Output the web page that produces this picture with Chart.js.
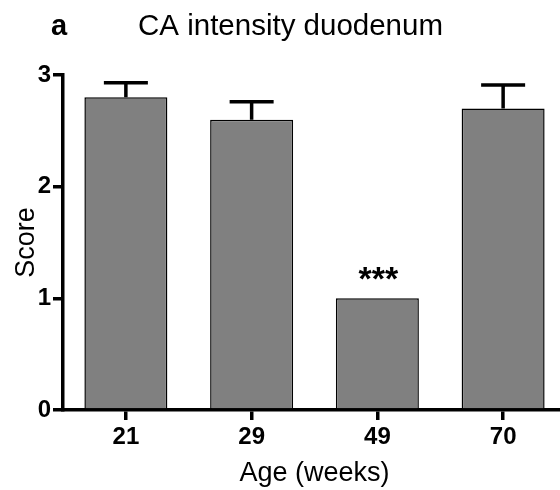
<!DOCTYPE html>
<html>
<head>
<meta charset="utf-8">
<script src="https://cdn.jsdelivr.net/npm/chart.js@4/dist/chart.umd.min.js"></script>
<style>
  html, body { margin: 0; padding: 0; background: #fff; overflow: hidden; }
  #wrap { width: 570px; height: 490px; }
</style>
</head>
<body>
<div id="wrap"><canvas id="caChart"></canvas></div>
<script>
const ages = ['21', '29', '49', '70'];
const scores = [2.8, 2.6, 1.0, 2.7];
const sem = [0.13, 0.16, 0, 0.21];
const marks = ['', '', '***', ''];
const yTicks = [0, 1, 2, 3];

const fontFam = 'Arial, "Liberation Sans", Helvetica, sans-serif';

const errorBars = {
    id: 'errorBars',
    afterDatasetsDraw(chart) {
        const c = chart.ctx;
        const y = chart.scales.y;
        const bars = chart.getDatasetMeta(0).data;
        c.save();
        c.strokeStyle = '#000';
        c.lineWidth = 3.5;
        bars.forEach(function (bar, i) {
            const top = y.getPixelForValue(scores[i] + sem[i]);
            if (sem[i] > 0) {
                c.beginPath();
                c.moveTo(bar.x, bar.y);
                c.lineTo(bar.x, top);
                c.moveTo(bar.x - 22, top);
                c.lineTo(bar.x + 22, top);
                c.stroke();
            }
            if (marks[i]) {
                c.fillStyle = '#000';
                c.font = 'bold 34px ' + fontFam;
                c.textAlign = 'center';
                c.textBaseline = 'alphabetic';
                c.fillText(marks[i], bar.x + 1, top - 8);
            }
        });
        c.restore();
    },
    afterDraw(chart) {
        const c = chart.ctx;
        c.save();
        c.fillStyle = '#000';
        c.textBaseline = 'alphabetic';
        c.textAlign = 'left';
        c.font = 'bold 29px ' + fontFam;
        c.fillText('a', 51, 35);
        c.font = '29.5px ' + fontFam;
        c.fillText('CA intensity duodenum', 138, 35);
        c.restore();
    }
};

new Chart(document.getElementById('caChart'), {
    type: 'bar',
    data: {
        labels: ages,
        datasets: [{
            data: scores,
            backgroundColor: '#808080',
            borderColor: '#000',
            borderWidth: 1.5,
            categoryPercentage: 1,
            barPercentage: 0.66
        }]
    },
    options: {
        responsive: true,
        maintainAspectRatio: false,
        animation: false,
        layout: { padding: { top: 75, right: 4, left: 0, bottom: 0 } },
        plugins: {
            legend: { display: false },
            tooltip: { enabled: false }
        },
        scales: {
            x: {
                afterFit(scale) { scale.height = 80; },
                border: { color: '#000', width: 3.5 },
                grid: {
                    offset: false,
                    drawOnChartArea: false,
                    color: '#000',
                    lineWidth: 3.5,
                    tickLength: 10
                },
                ticks: {
                    color: '#000',
                    padding: 3,
                    font: { family: fontFam, size: 24, weight: 'bold' }
                },
                title: {
                    display: true,
                    text: 'Age (weeks)',
                    color: '#000',
                    padding: { top: 0, bottom: 0 },
                    font: { family: fontFam, size: 27 }
                }
            },
            y: {
                min: 0,
                max: 3,
                afterFit(scale) { scale.width = 63; },
                afterBuildTicks(scale) {
                    scale.ticks = yTicks.map(function (v) { return { value: v }; });
                },
                border: { color: '#000', width: 3.5 },
                grid: {
                    drawOnChartArea: false,
                    color: '#000',
                    lineWidth: 3.5,
                    tickLength: 10
                },
                ticks: {
                    color: '#000',
                    padding: 2,
                    font: { family: fontFam, size: 24, weight: 'bold' }
                },
                title: {
                    display: true,
                    text: 'Score',
                    color: '#000',
                    padding: { top: 10, bottom: 0 },
                    font: { family: fontFam, size: 27 }
                }
            }
        }
    },
    plugins: [errorBars]
});
</script>
</body>
</html>
